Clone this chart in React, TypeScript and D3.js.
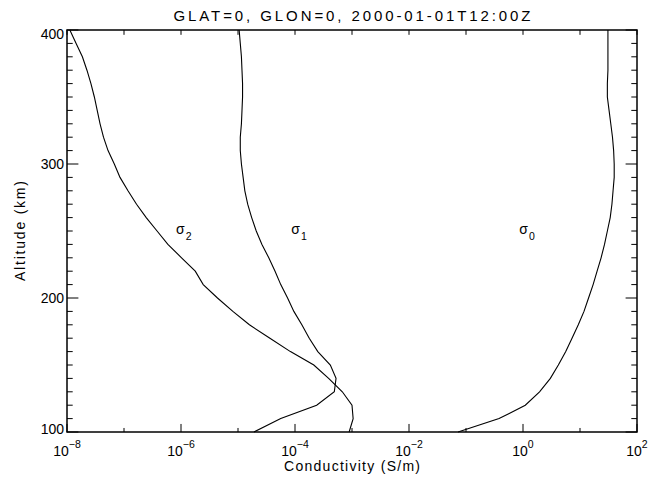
import * as d3 from 'd3';

// altitude grid (km), 10 km steps
const altitudes = [100, 110, 120, 130, 140, 150, 160, 170, 180, 190, 200, 210, 220, 230, 240, 250,
  260, 270, 280, 290, 300, 310, 320, 330, 340, 350, 360, 370, 380, 390, 400];

// log10 of conductivity (S/m)
const sigma0Log = [-1.14, -0.42, 0.04, 0.29, 0.48, 0.62, 0.75, 0.86, 0.97, 1.07, 1.15, 1.23, 1.3,
  1.37, 1.43, 1.48, 1.53, 1.56, 1.58, 1.6, 1.6, 1.59, 1.57, 1.54, 1.51, 1.48, 1.48, 1.49, 1.49, 1.49, 1.49];
const sigma1Log = [-4.72, -4.25, -3.62, -3.31, -3.28, -3.38, -3.6, -3.75, -3.88, -4.02, -4.13, -4.25,
  -4.35, -4.46, -4.58, -4.68, -4.76, -4.83, -4.88, -4.91, -4.94, -4.96, -4.96, -4.94, -4.93, -4.92,
  -4.92, -4.93, -4.94, -4.96, -4.98];
const sigma2Log = [-3.05, -2.98, -3.0, -3.17, -3.41, -3.67, -4.08, -4.44, -4.8, -5.09, -5.36, -5.61,
  -5.75, -5.99, -6.23, -6.42, -6.61, -6.78, -6.93, -7.07, -7.17, -7.28, -7.36, -7.42, -7.47, -7.52,
  -7.58, -7.65, -7.73, -7.84, -7.95];

const xMajorExp = [-8, -6, -4, -2, 0, 2];
const xMinorExp = [-7, -5, -3, -1, 1];
const yMajor = [100, 200, 300, 400];

const labels = [
  { sub: '2', x: -5.95, alt: 248 },
  { sub: '1', x: -3.93, alt: 248 },
  { sub: '0', x: 0.07, alt: 248 },
];

const W = 652;
const H = 481;
const margin = { top: 30, right: 15, bottom: 49, left: 67 };
const font = 'Liberation Sans, Arial, sans-serif';

export default function App() {
  const x = d3.scaleLog().domain([1e-8, 1e2]).range([margin.left, W - margin.right]);
  const y = d3.scaleLinear().domain([100, 400]).range([H - margin.bottom, margin.top]);
  const [x0, x1] = x.range();
  const [y0, y1] = y.range();

  const ticLenX = 0.02 * (y0 - y1);
  const ticLenY = 0.02 * (x1 - x0);

  const yMinor = d3.range(110, 400, 10).filter(v => v % 100 !== 0);

  const line = d3
    .line<number>()
    .x(v => x(Math.pow(10, v)))
    .y((_, i) => y(altitudes[i]));

  const series = [sigma0Log, sigma1Log, sigma2Log];

  return (
    <svg width={W} height={H} style={{ position: 'absolute', left: 0, top: 0, background: '#fff' }}
      fontFamily={font} fill="#000">
      <rect width={W} height={H} fill="#fff" />

      {series.map((s, i) => (
        <path key={i} d={line(s) ?? ''} fill="none" stroke="#000" strokeWidth={1.1} />
      ))}

      {/* ticks */}
      <g stroke="#000" strokeWidth={1}>
        {xMajorExp.map(e => {
          const px = x(Math.pow(10, e));
          return (
            <g key={'xm' + e}>
              <line x1={px} x2={px} y1={y0} y2={y0 - ticLenX} />
              <line x1={px} x2={px} y1={y1} y2={y1 + ticLenX * 0.6} />
            </g>
          );
        })}
        {xMinorExp.map(e => {
          const px = x(Math.pow(10, e));
          return (
            <g key={'xn' + e}>
              <line x1={px} x2={px} y1={y0} y2={y0 - ticLenX / 2} />
              <line x1={px} x2={px} y1={y1} y2={y1 + ticLenX * 0.6} />
            </g>
          );
        })}
        {yMajor.map(v => (
          <g key={'ym' + v}>
            <line x1={x0} x2={x0 + ticLenY} y1={y(v)} y2={y(v)} />
            <line x1={x1} x2={x1 - ticLenY} y1={y(v)} y2={y(v)} />
          </g>
        ))}
        {yMinor.map(v => (
          <g key={'yn' + v}>
            <line x1={x0} x2={x0 + ticLenY / 2} y1={y(v)} y2={y(v)} />
            <line x1={x1} x2={x1 - ticLenY / 2} y1={y(v)} y2={y(v)} />
          </g>
        ))}
      </g>

      {/* frame */}
      <rect x={x0} y={y1} width={x1 - x0} height={y0 - y1} fill="none" stroke="#000" strokeWidth={1.5} />

      {/* x tick labels */}
      {xMajorExp.map(e => {
        const px = x(Math.pow(10, e));
        return (
          <text key={'xl' + e} x={px} y={y0 + 24} fontSize={14} textAnchor="middle">
            <tspan>10</tspan>
            <tspan dy={-8} fontSize={10.5}>{e < 0 ? '\u2212' + -e : e}</tspan>
          </text>
        );
      })}

      {/* y tick labels */}
      {yMajor.map(v => (
        <text key={'yl' + v} x={x0 - 3} y={y(v) + (v === 400 ? 9 : v === 100 ? 2 : 5)} fontSize={14}
          textAnchor="end">
          {v}
        </text>
      ))}

      {/* curve labels */}
      {labels.map(l => (
        <text key={l.sub} x={x(Math.pow(10, l.x))} y={y(l.alt)} fontSize={14} textAnchor="middle">
          σ<tspan dx={1} dy={6} fontSize={10.5}>{l.sub}</tspan>
        </text>
      ))}

      <text x={(x0 + x1) / 2} y={21} fontSize={15} textAnchor="middle" textLength={357}
        lengthAdjust="spacing">
        GLAT=0, GLON=0, 2000-01-01T12:00Z
      </text>
      <text x={(x0 + x1) / 2} y={471} fontSize={14} textAnchor="middle" textLength={136}
        lengthAdjust="spacing">
        Conductivity (S/m)
      </text>
      <text transform={`translate(25, ${(y0 + y1) / 2}) rotate(-90)`} fontSize={14} textAnchor="middle"
        textLength={100} lengthAdjust="spacing">
        Altitude (km)
      </text>
    </svg>
  );
}
